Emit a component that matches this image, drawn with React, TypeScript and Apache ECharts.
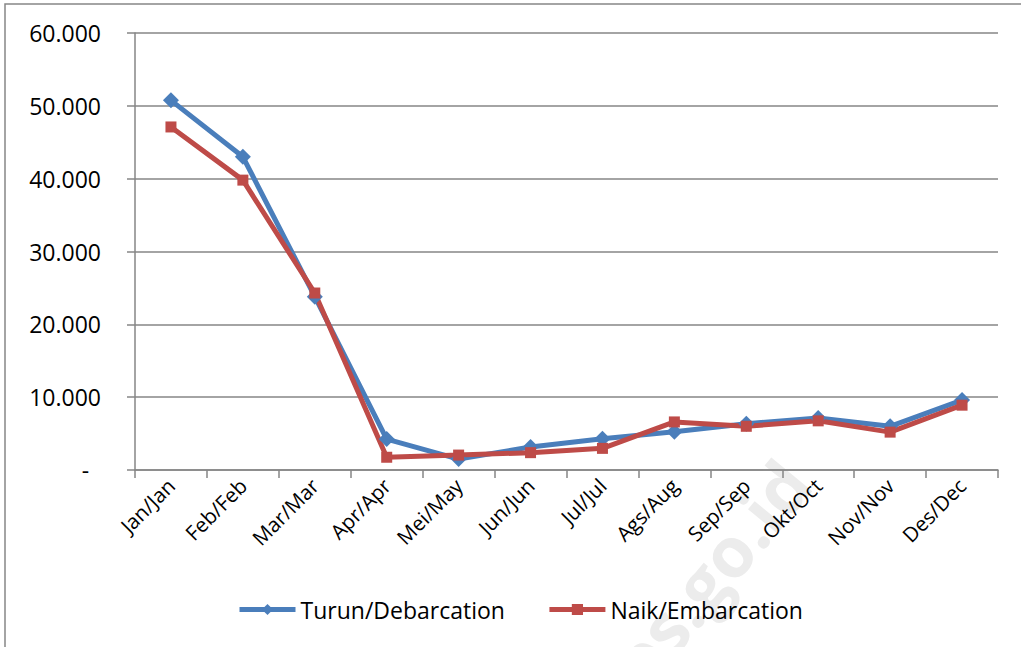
import React, { useEffect, useRef } from "react";
import * as echarts from "echarts";

const categories = [
  "Jan/Jan", "Feb/Feb", "Mar/Mar", "Apr/Apr", "Mei/May", "Jun/Jun",
  "Jul/Jul", "Ags/Aug", "Sep/Sep", "Okt/Oct", "Nov/Nov", "Des/Dec",
];
const debarcation = [50750, 43000, 23800, 4250, 1500, 3150, 4300, 5250, 6350, 7150, 6000, 9600];
const embarcation = [47100, 39800, 24300, 1750, 2050, 2380, 2970, 6600, 6000, 6750, 5200, 8900];
const seriesNames = ["Turun/Debarcation", "Naik/Embarcation"];
const yTicks = { min: 0, max: 60000, interval: 10000 };

const FONT = "'Open Sans', 'Noto Sans', sans-serif";
const GRAY = "#868686";
const BLUE = "#4A7EBB";
const RED = "#BE4B48";

function fmt(v: number): string {
  if (v === 0) return "-\u00a0\u00a0";
  return (v / 1000).toFixed(0) + ".000";
}

export default function App() {
  const ref = useRef<HTMLDivElement>(null);
  useEffect(() => {
    if (!ref.current) return;
    const chart = echarts.init(ref.current, undefined, { renderer: "svg" });
    chart.setOption({
      animation: false,
      backgroundColor: "#ffffff",
      graphic: [
        {
          type: "rect",
          z: -10,
          shape: { x: 5, y: 4, width: 1100, height: 700 },
          style: { fill: "none", stroke: GRAY, lineWidth: 1.5 },
        },
        {
          type: "text",
          z: -5,
          x: 795,
          y: 470,
          rotation: 0.88,
          style: {
            text: "bps.go.id",
            fill: "#ececec",
            font: "bold 70px " + FONT,
            align: "right",
            verticalAlign: "middle",
          },
        },
      ],
      grid: { left: 135, right: 23, top: 33, bottom: 177 },
      legend: {
        left: 232,
        top: 593,
        itemWidth: 56,
        itemHeight: 14,
        itemGap: 42,
        textStyle: { fontFamily: FONT, fontSize: 23, color: "#000" },
        data: [
          { name: seriesNames[0], lineStyle: { width: 5, color: BLUE } },
          { name: seriesNames[1], lineStyle: { width: 5, color: RED } },
        ],
      },
      xAxis: {
        type: "category",
        data: categories,
        boundaryGap: true,
        axisLine: { lineStyle: { color: GRAY, width: 1.5 } },
        axisTick: { show: true, length: 8, alignWithLabel: false, lineStyle: { color: GRAY, width: 1.5 } },
        axisLabel: {
          rotate: 45,
          interval: 0,
          margin: 12,
          fontFamily: FONT,
          fontSize: 20.5,
          color: "#000",
        },
      },
      yAxis: {
        type: "value",
        min: yTicks.min,
        max: yTicks.max,
        interval: yTicks.interval,
        axisLine: { show: true, lineStyle: { color: GRAY, width: 1.5 } },
        axisTick: { show: true, length: 8, lineStyle: { color: GRAY, width: 1.5 } },
        splitLine: { lineStyle: { color: GRAY, width: 1.5 } },
        axisLabel: {
          formatter: fmt,
          margin: 34,
          fontFamily: FONT,
          fontSize: 23,
          color: "#000",
        },
      },
      series: [
        {
          name: seriesNames[0],
          type: "line",
          data: debarcation,
          symbol: "diamond",
          symbolSize: 16,
          itemStyle: { color: BLUE },
          lineStyle: { color: BLUE, width: 5 },
        },
        {
          name: seriesNames[1],
          type: "line",
          data: embarcation,
          symbol: "rect",
          symbolSize: 11,
          itemStyle: { color: RED },
          lineStyle: { color: RED, width: 5 },
        },
      ],
    });
    return () => chart.dispose();
  }, []);
  return (
    <div
      ref={ref}
      style={{ position: "fixed", left: 0, top: 0, width: 1021, height: 647, background: "#fff" }}
    />
  );
}
